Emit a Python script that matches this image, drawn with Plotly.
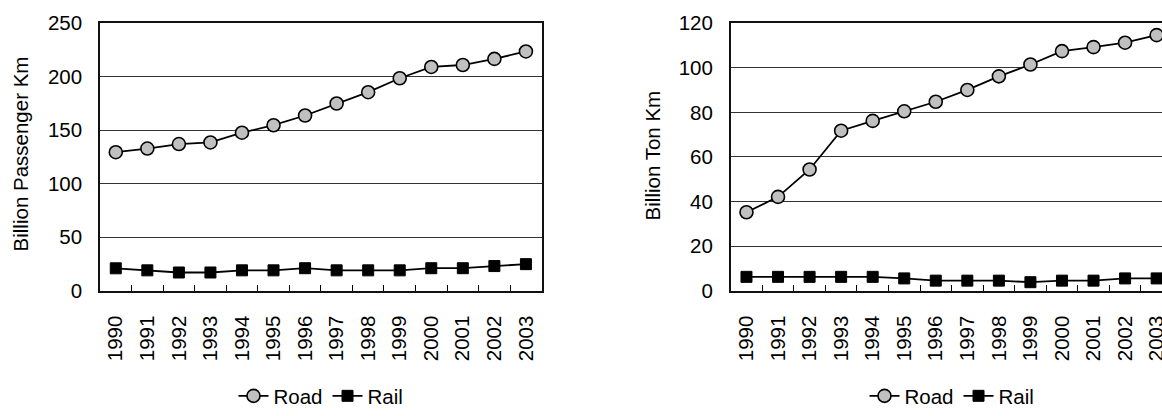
import plotly.graph_objects as go

years = ["1990", "1991", "1992", "1993", "1994", "1995", "1996",
         "1997", "1998", "1999", "2000", "2001", "2002", "2003"]

passenger_road = [129.5, 132.9, 137.1, 138.6, 147.7, 154.7, 163.8,
                  175.0, 185.6, 198.6, 209.2, 211.0, 216.7, 223.7]
passenger_rail = [20.9, 19.0, 17.0, 17.0, 19.0, 19.0, 21.0,
                  19.0, 19.0, 19.0, 21.0, 21.0, 23.0, 24.8]
freight_road = [35.2, 42.1, 54.4, 71.8, 76.2, 80.5, 84.8,
                90.1, 96.2, 101.5, 107.5, 109.3, 111.3, 114.7]
freight_rail = [6.2, 6.2, 6.2, 6.2, 6.2, 5.5, 4.5,
                4.5, 4.5, 3.8, 4.5, 4.5, 5.5, 5.5]

series_names = ["Road", "Rail"]
left_title = "Billion Passenger Km"
right_title = "Billion Ton Km"

W, H = 1162, 416
FONT = "Liberation Sans, Arial, sans-serif"
FS = 20.5

road_marker = dict(symbol="circle", size=13, color="#c0c0c0",
                   line=dict(color="black", width=1.6))
rail_marker = dict(symbol="square", size=11, color="black",
                   line=dict(color="black", width=1))
line_style = dict(color="black", width=1.8)

fig = go.Figure()
fig.add_trace(go.Scatter(x=years, y=passenger_road, name=series_names[0],
                         mode="lines+markers", marker=road_marker, line=line_style,
                         xaxis="x", yaxis="y", legend="legend"))
fig.add_trace(go.Scatter(x=years, y=passenger_rail, name=series_names[1],
                         mode="lines+markers", marker=rail_marker, line=line_style,
                         xaxis="x", yaxis="y", legend="legend"))
fig.add_trace(go.Scatter(x=years, y=freight_road, name=series_names[0],
                         mode="lines+markers", marker=road_marker, line=line_style,
                         xaxis="x2", yaxis="y2", legend="legend2", cliponaxis=False))
fig.add_trace(go.Scatter(x=years, y=freight_rail, name=series_names[1],
                         mode="lines+markers", marker=rail_marker, line=line_style,
                         xaxis="x2", yaxis="y2", legend="legend2", cliponaxis=False))

# pixel geometry
left_x0, left_x1 = 100.0, 541.7
right_x0 = 730.7
top_px, bot_px = 24.0, 299.3
ydom = [(H - bot_px) / H, (H - top_px) / H]
step = (left_x1 - left_x0) / 14.0
right_full = right_x0 + 14 * step
right_range_end = 13.5 - (right_full - W) / step

xcommon = dict(type="category", tickson="boundaries", ticks="inside", ticklen=6,
               tickcolor="black", tickwidth=1, tickangle=-90,
               tickfont=dict(family=FONT, size=FS, color="black"),
               showline=True, linecolor="#111", linewidth=1.5,
               showgrid=False, zeroline=False, automargin=False,
               ticklabelstandoff=15, fixedrange=True)
ycommon = dict(showline=True, linecolor="#111", linewidth=1.5,
               showgrid=True, gridcolor="#333", gridwidth=1,
               zeroline=False, ticks="", automargin=False,
               tickfont=dict(family=FONT, size=FS, color="black"),
               ticklabelstandoff=12, fixedrange=True)

fig.update_layout(
    width=W, height=H,
    margin=dict(l=0, r=0, t=0, b=0),
    paper_bgcolor="white", plot_bgcolor="white",
    showlegend=True,
    xaxis=dict(domain=[left_x0 / W, left_x1 / W], anchor="y",
               range=[-0.5, 13.5], mirror=True, **xcommon),
    yaxis=dict(domain=ydom, anchor="x", range=[0, 250], dtick=50,
               mirror=True, **ycommon),
    xaxis2=dict(domain=[right_x0 / W, 1.0], anchor="y2",
                range=[-0.5, right_range_end], mirror=True, **xcommon),
    yaxis2=dict(domain=ydom, anchor="x2", range=[0, 120], dtick=20,
                mirror=False, **ycommon),
    legend=dict(orientation="h", x=321 / W, xanchor="center",
                y=(H - 408) / H, yanchor="middle",
                font=dict(family=FONT, size=FS, color="black"),
                bgcolor="rgba(0,0,0,0)", itemclick=False, itemdoubleclick=False),
    legend2=dict(orientation="h", x=952 / W, xanchor="center",
                 y=(H - 408) / H, yanchor="middle",
                 font=dict(family=FONT, size=FS, color="black"),
                 bgcolor="rgba(0,0,0,0)", itemclick=False, itemdoubleclick=False),
    annotations=[
        dict(text=left_title, textangle=-90, x=20 / W, y=(H - 159) / H,
             xref="paper", yref="paper", showarrow=False,
             xanchor="center", yanchor="middle",
             font=dict(family=FONT, size=FS, color="black")),
        dict(text=right_title, textangle=-90, x=652 / W, y=(H - 160) / H,
             xref="paper", yref="paper", showarrow=False,
             xanchor="center", yanchor="middle",
             font=dict(family=FONT, size=FS, color="black")),
    ],
)

fig.write_html("out.html", config={"displayModeBar": False})
